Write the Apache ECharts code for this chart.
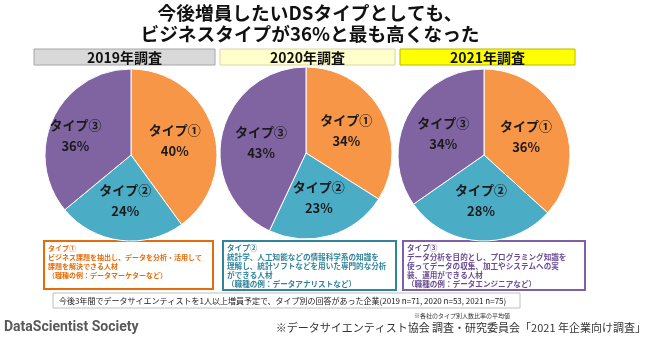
<!DOCTYPE html>
<html>
<head>
<meta charset="utf-8">
<script src="https://cdn.jsdelivr.net/npm/echarts@6/dist/echarts.min.js"></script>
<style>
  html, body { margin: 0; padding: 0; background: #fff; }
  #chart { width: 650px; height: 340px; }
</style>
</head>
<body>
<div id="chart"></div>
<script>
// Survey years and type shares (%)
const surveyYears = ['2019年調査', '2020年調査', '2021年調査'];
const typeNames = ['タイプ①', 'タイプ②', 'タイプ③'];
const share2019 = [40, 24, 36];
const share2020 = [34, 23, 43];
const share2021 = [36, 28, 34];
const shares = [share2019, share2020, share2021];

const titleLines = ['今後増員したいDSタイプとしても、', 'ビジネスタイプが36%と最も高くなった'];
const typeDescriptions = [
  ['タイプ①', 'ビジネス課題を抽出し、データを分析・活用して', '課題を解決できる人材', '（職種の例：データマーケターなど）'],
  ['タイプ②', '統計学、人工知能などの情報科学系の知識を', '理解し、統計ソフトなどを用いた専門的な分析', 'ができる人材', '（職種の例：データアナリストなど）'],
  ['タイプ③', 'データ分析を目的とし、プログラミング知識を', '使ってデータの収集、加工やシステムへの実', '装、運用ができる人材', '（職種の例：データエンジニアなど）']
];
const sampleNote = '今後3年間でデータサイエンティストを1人以上増員予定で、タイプ別の回答があった企業(2019 n=71, 2020 n=53, 2021 n=75)';
const avgNote = '※各社のタイプ別人数比率の平均値';
const sourceNote = '※データサイエンティスト協会 調査・研究委員会「2021 年企業向け調査」';
const brandName = 'DataScientist Society';

const FONT = '"Noto Sans CJK JP", "Noto Sans", sans-serif';
const sliceColors = ['#F79646', '#4BACC6', '#8064A2'];

// Layout of the three panels
const pieCenters = [[131, 155], [306, 153], [484, 155]];
const headerBoxes = [
  { x: 34, w: 181, fill: '#D9D9D9', stroke: '#A6A6A6' },
  { x: 220, w: 175, fill: '#FFFFCC', stroke: '#D6D6A8' },
  { x: 400, w: 175, fill: '#FFFF00', stroke: '#B8B800' }
];
const descBoxes = [
  { x: 44, y: 241, w: 169, h: 48, stroke: '#E46C0A', color: '#E46C0A', size: 7 },
  { x: 223, y: 241, w: 173, h: 49, stroke: '#31849B', color: '#31849B', size: 7.6 },
  { x: 403, y: 241, w: 182, h: 49, stroke: '#7F5FA8', color: '#6A4C93', size: 7.6 }
];

const chart = echarts.init(document.getElementById('chart'), null, { renderer: 'canvas' });

const series = shares.map((vals, i) => ({
  type: 'pie',
  center: pieCenters[i],
  radius: 86,
  startAngle: 90,
  clockwise: true,
  silent: true,
  animation: false,
  itemStyle: { borderColor: '#fff', borderWidth: 1 },
  label: {
    show: true,
    position: 'inside',
    formatter: '{b}\n{c}%',
    fontFamily: FONT,
    fontWeight: 'bold',
    fontSize: 13,
    lineHeight: 21,
    color: '#1a1a1a'
  },
  labelLine: { show: false },
  data: vals.map((v, k) => {
    const item = { name: typeNames[k], value: v, itemStyle: { color: sliceColors[k] } };
    // first panel keeps its type③ label further toward the rim
    if (i === 0 && k === 2) item.label = { offset: [-14, 0] };
    return item;
  })
}));

const graphics = [];

// Headline
titleLines.forEach((t, i) => {
  graphics.push({
    type: 'text', x: 310, y: 13 + i * 21,
    style: { text: t, fontFamily: FONT, fontWeight: 'bold', fontSize: 18.7, fill: '#111', align: 'center', verticalAlign: 'middle' }
  });
});

// Year headers
headerBoxes.forEach((b, i) => {
  graphics.push({
    type: 'rect', shape: { x: b.x, y: 49, width: b.w, height: 16 },
    style: { fill: b.fill, stroke: b.stroke, lineWidth: 1 }
  });
  graphics.push({
    type: 'text', x: b.x + b.w / 2, y: 57.5,
    style: { text: surveyYears[i], fontFamily: FONT, fontWeight: 'bold', fontSize: 14, fill: '#111', align: 'center', verticalAlign: 'middle' }
  });
});

// Type description boxes
descBoxes.forEach((b, i) => {
  graphics.push({
    type: 'rect', shape: { x: b.x, y: b.y, width: b.w, height: b.h },
    style: { fill: '#fff', stroke: b.stroke, lineWidth: 2 }
  });
  graphics.push({
    type: 'text', x: b.x + 4, y: b.y + 2.5,
    style: { text: typeDescriptions[i].join('\n'), fontFamily: FONT, fontWeight: 'bold', fontSize: b.size, lineHeight: 9, fill: b.color, align: 'left', verticalAlign: 'top' }
  });
});

// Sample note
graphics.push({
  type: 'rect', shape: { x: 53, y: 293, width: 467, height: 15 },
  style: { fill: '#fff', stroke: '#BFBFBF', lineWidth: 1 }
});
graphics.push({
  type: 'text', x: 59, y: 300.5,
  style: { text: sampleNote, fontFamily: FONT, fontSize: 8, fill: '#222', align: 'left', verticalAlign: 'middle' }
});

// Footer
graphics.push({
  type: 'text', x: 4, y: 327,
  style: { text: brandName, fontFamily: '"Liberation Sans Narrow", "Roboto", sans-serif', fontWeight: 'bold', fontSize: 14, fill: '#595959', align: 'left', verticalAlign: 'middle' }
});
graphics.push({
  type: 'text', x: 462, y: 316,
  style: { text: avgNote, fontFamily: FONT, fontSize: 6, fill: '#333', align: 'center', verticalAlign: 'middle' }
});
graphics.push({
  type: 'text', x: 646, y: 328,
  style: { text: sourceNote, fontFamily: FONT, fontSize: 11, fill: '#333', align: 'right', verticalAlign: 'middle' }
});

chart.setOption({
  backgroundColor: '#fff',
  animation: false,
  series: series,
  graphic: { elements: graphics }
});
</script>
</body>
</html>
